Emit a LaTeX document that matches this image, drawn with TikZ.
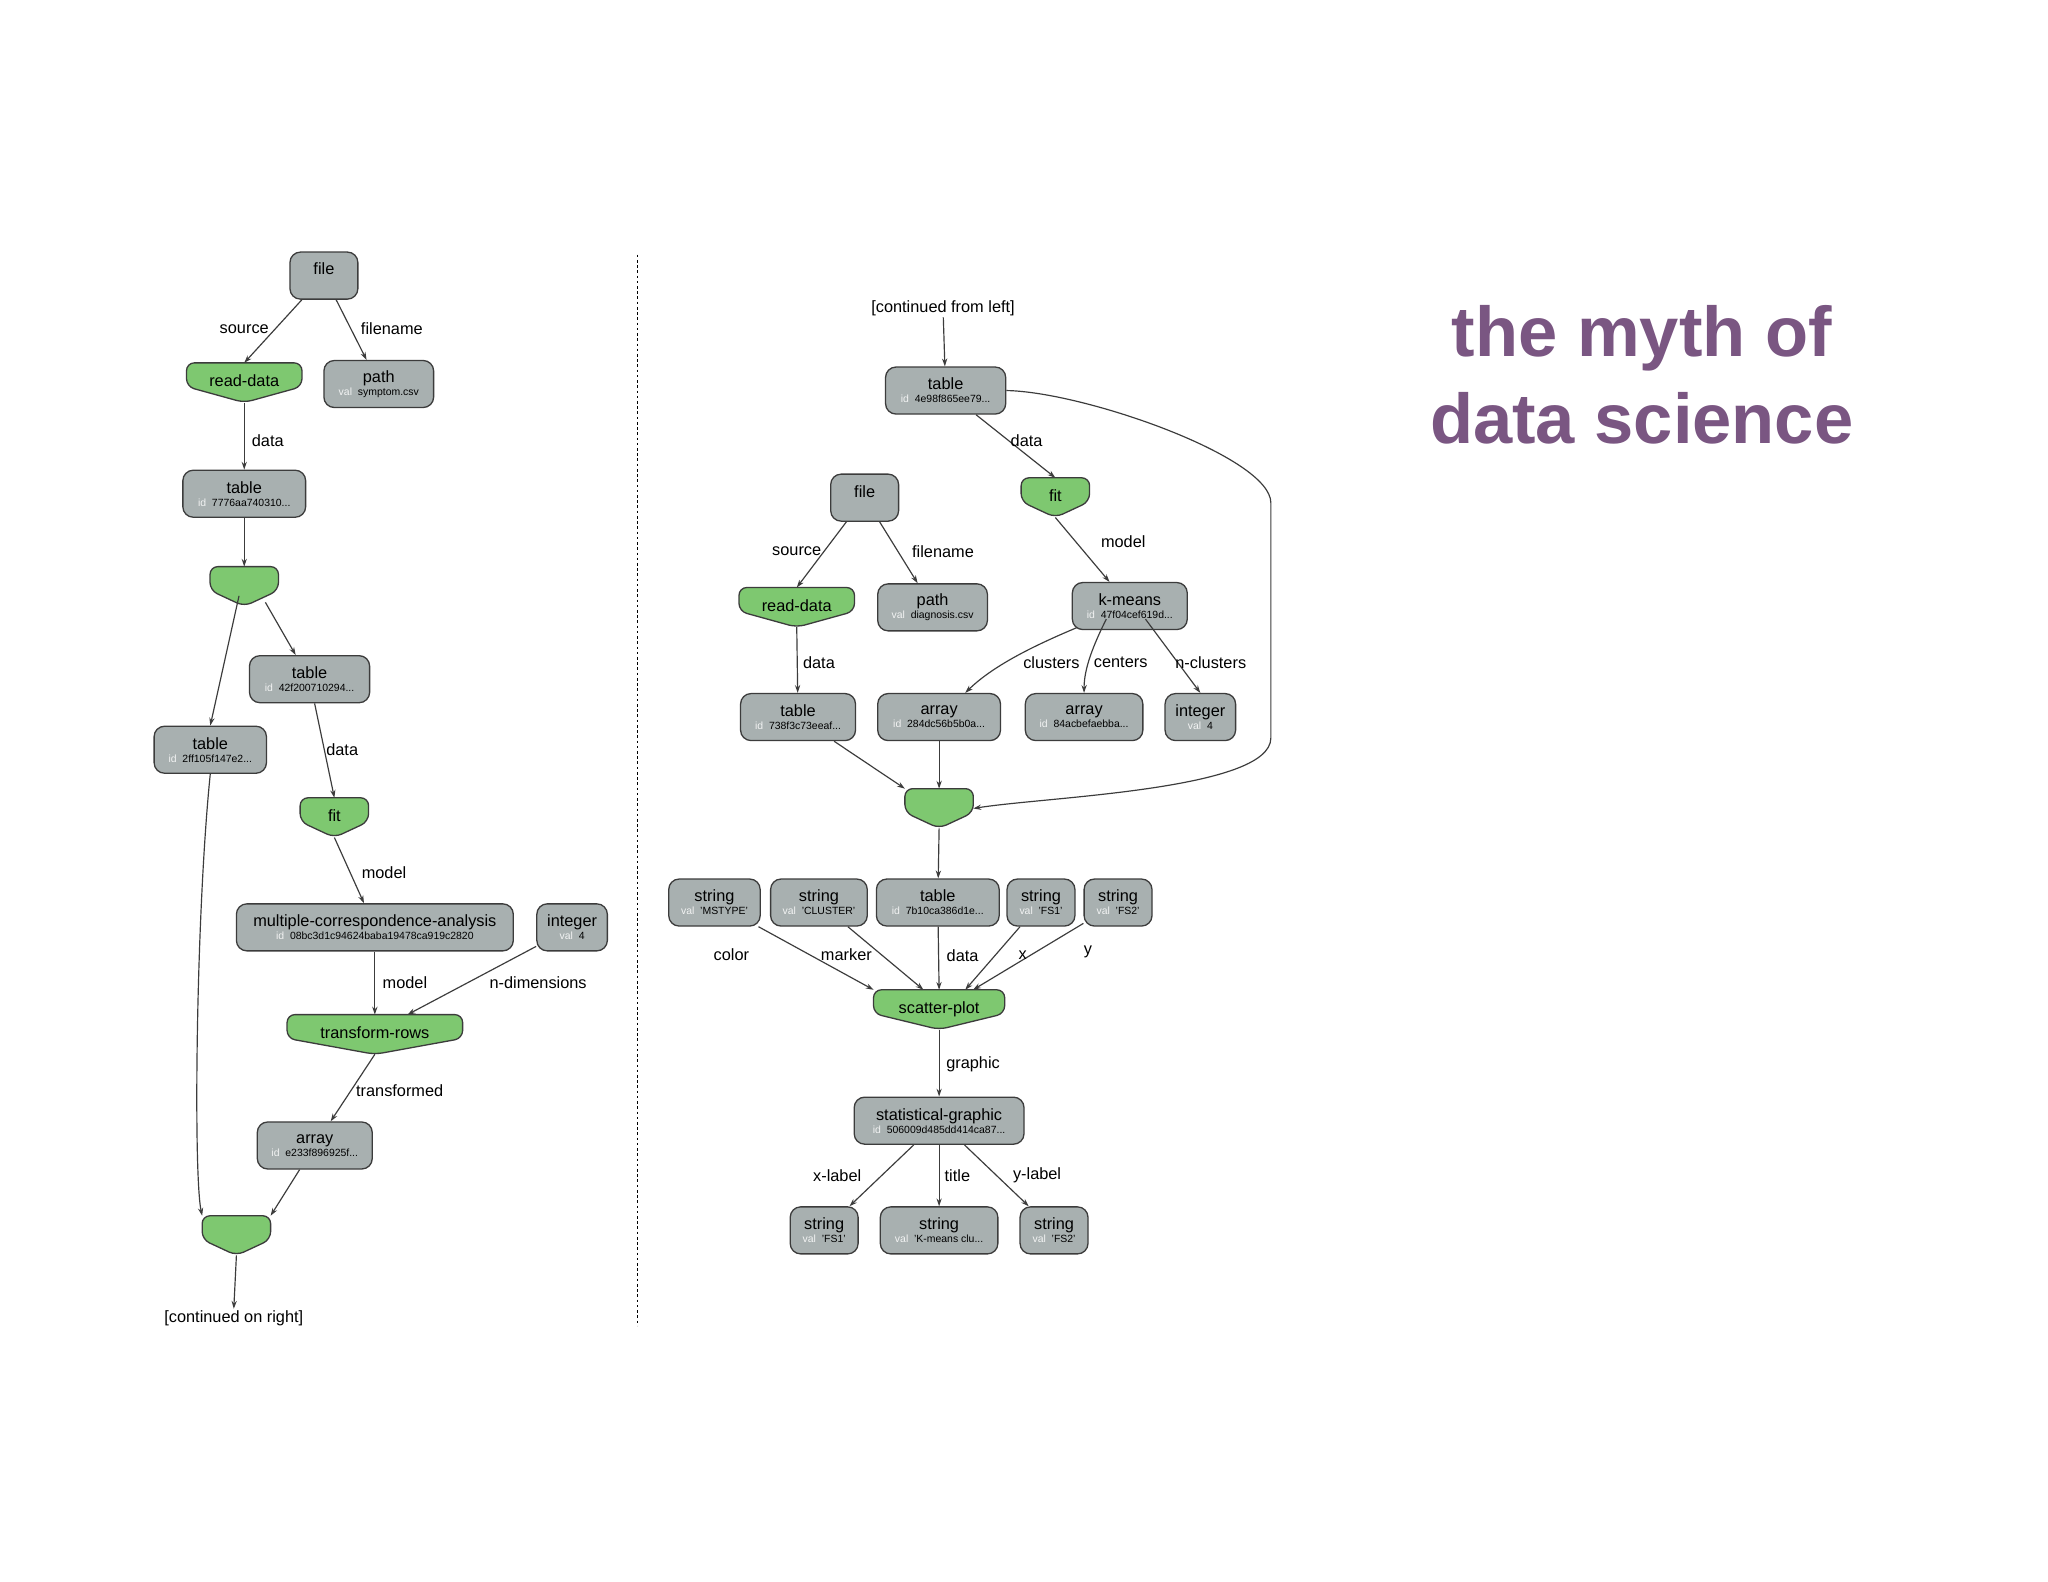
\documentclass[tikz,border=0pt]{standalone}
\usepackage{fontspec}
\setmainfont{Liberation Sans}
\usetikzlibrary{calc,arrows.meta}
\pgfdeclarelayer{bg}
\pgfsetlayers{bg,main}
\definecolor{gfillc}{RGB}{168,176,176}
\definecolor{grfill}{RGB}{126,200,112}
\definecolor{edgec}{RGB}{60,60,60}
\definecolor{titlec}{RGB}{122,86,130}
\tikzset{
  gnodes/.style={draw=edgec,fill=gfillc,rounded corners=8pt,line width=1pt,minimum height=36pt,inner sep=1pt,align=center,font=\fontsize{12.5}{12}\selectfont},
  grnode/.style={minimum height=30pt,inner sep=0pt,font=\fontsize{12.5}{12}\selectfont},
  grshape/.style={draw=edgec,fill=grfill,line width=1pt,rounded corners=6pt},
  arr/.style={draw=edgec,line width=0.9pt,-{Stealth[length=6pt,width=4pt]}},
  elab/.style={font=\fontsize{12.5}{12}\selectfont,inner sep=1pt}
}
\newcommand\gn[6]{\node[gnodes,minimum width=#4pt] (#1) at (#2,#3) {#5\\[-2pt]{\fontsize{8}{8}\selectfont #6}};}
\newcommand\gid[1]{{\color{white!85!gfillc}id}\ \ #1}
\newcommand\gval[1]{{\color{white!85!gfillc}val}\ \ #1}
\newcommand\grn[5]{\node[grnode,minimum width=#4pt] (#1) at (#2,#3) {\raisebox{3pt}{#5}};
 \begin{pgfonlayer}{bg}\draw[grshape] (#1.north west) -- (#1.north east) -- ($(#1.east)+(0,3)$) -- (#1.south) -- ($(#1.west)+(0,3)$) -- cycle;\end{pgfonlayer}}
\begin{document}
\begin{tikzpicture}[x=1pt,y=-1pt]
\begin{pgfonlayer}{bg}\fill[white] (0,0) rectangle (1568,1211);\end{pgfonlayer}
\useasboundingbox (0,0) rectangle (1568,1211);
% left
\gn{file}{248}{211}{52}{file}{}
\grn{rd}{187}{293}{88}{read-data}
\gn{path}{290}{294}{84}{path}{\gval{symptom.csv}}
\gn{t1}{187}{378}{94}{table}{\gid{7776aa740310...}}
\grn{g1}{187}{449}{52}{}
\gn{t2}{237}{520}{92}{table}{\gid{42f200710294...}}
\gn{t3}{161}{574}{86}{table}{\gid{2ff105f147e2...}}
\grn{fit}{256}{626}{52}{fit}
\gn{mca}{287}{710}{212}{multiple-correspondence-analysis}{\gid{08bc3d1c94624baba19478ca919c2820}}
\gn{int}{438}{710}{54}{integer}{\gval{4}}
\grn{tr}{287}{792}{134}{transform-rows}
\gn{arr}{241}{877}{88}{array}{\gid{e233f896925f...}}
\grn{g2}{181}{946}{52}{}
\node[elab] (cr) at (179,1009) {[continued on right]};
\draw[arr] (file) -- (rd.north) ;
\draw[arr] (file) -- (path);
\draw[arr] (rd.south) -- (t1);
\draw[arr] (t1) -- (g1.north);
\draw[arr] (g1.south east) ++(-10,-3) coordinate (g1a) -- (t2);
\draw[arr] (g1.south) ++(-4,-8) coordinate (g1b) -- (t3.north);
\draw[arr] (t2) -- (fit.north);
\draw[arr] (fit.south) -- (mca);
\draw[arr] (mca) -- (tr.north);
\draw[arr] (int) -- ($(tr.north)+(25,0)$);
\draw[arr] (tr.south) -- (arr);
\draw[arr] (arr) -- (g2.north east);
\draw[arr] (t3.south) .. controls (150,700) and (148,900) .. (g2.north west);
\draw[arr] (g2.south) -- (cr.north);
\node[elab] at (187,252) {source};
\node[elab] at (300,252) {filename};
\node[elab] at (205,337) {data};
\node[elab] at (262,574) {data};
\node[elab] at (294,668) {model};
\node[elab] at (310,752) {model};
\node[elab] at (412,752) {n-dimensions};
\node[elab] at (306,835) {transformed};
% divider
\draw[line width=1.2pt,dash pattern=on 2pt off 2pt] (488,195) -- (488,1015);
% right
\node[elab] (cl) at (722,236) {[continued from left]};
\gn{t4}{724}{299}{92}{table}{\gid{4e98f865ee79...}}
\grn{fit2}{808}{381}{52}{fit}
\gn{file2}{662}{381}{52}{file}{}
\grn{rd2}{610}{465}{88}{read-data}
\gn{path2}{714}{465}{84}{path}{\gval{diagnosis.csv}}
\gn{km}{865}{464}{88}{k-means}{\gid{47f04cef619d...}}
\gn{t5}{611}{549}{88}{table}{\gid{738f3c73eeaf...}}
\gn{a1}{719}{549}{94}{array}{\gid{284dc56b5b0a...}}
\gn{a2}{830}{549}{90}{array}{\gid{84acbefaebba...}}
\gn{i2}{919}{549}{54}{integer}{\gval{4}}
\grn{g3}{719}{619}{52}{}
\gn{s1}{547}{691}{70}{string}{\gval{'MSTYPE'}}
\gn{s2}{627}{691}{74}{string}{\gval{'CLUSTER'}}
\gn{t6}{718}{691}{94}{table}{\gid{7b10ca386d1e...}}
\gn{s3}{797}{691}{52}{string}{\gval{'FS1'}}
\gn{s4}{856}{691}{52}{string}{\gval{'FS2'}}
\grn{sp}{719}{773}{100}{scatter-plot}
\gn{sg}{719}{858}{130}{statistical-graphic}{\gid{506009d485dd414ca87...}}
\gn{s5}{631}{942}{52}{string}{\gval{'FS1'}}
\gn{s6}{719}{942}{90}{string}{\gval{'K-means clu...}}
\gn{s7}{807}{942}{52}{string}{\gval{'FS2'}}
\draw[arr] (cl) -- (t4);
\draw[arr] (t4) -- (fit2.north);
\draw[arr] (fit2.south) -- (km);
\draw[arr] (file2) -- (rd2.north);
\draw[arr] (file2) -- (path2);
\draw[arr] (rd2.south) -- (t5);
\draw[arr] (km.south west) ++(4,-2) coordinate (kma) .. controls (790,495) and (760,510) .. ($(a1.north)+(20,0)$);
\draw[arr] (km) ++(-18,10) coordinate (kmb) .. controls (834,500) and (830,515) .. (a2.north);
\draw[arr] (km) ++(12,10) coordinate (kmc) -- (i2.north);
\draw[arr] (t5) -- (g3.north west);
\draw[arr] (a1) -- (g3.north);
\draw[arr] (t4.east) .. controls (830,300) and (973,350) .. (973,385) -- (973,565) .. controls (973,605) and (800,610) .. (g3.east);
\draw[arr] (g3.south) -- (t6);
\draw[arr] (s1) -- (sp.north west);
\draw[arr] (s2) -- ($(sp.north)+(-12,0)$);
\draw[arr] (t6) -- (sp.north);
\draw[arr] (s3) -- ($(sp.north)+(20,0)$);
\draw[arr] (s4) -- ($(sp.north)+(26,0)$);
\draw[arr] (sp.south) -- (sg);
\draw[arr] (sg) -- (s5);
\draw[arr] (sg) -- (s6);
\draw[arr] (sg) -- (s7);
\node[elab] at (786,337) {data};
\node[elab] at (860,415) {model};
\node[elab] at (610,422) {source};
\node[elab] at (722,422) {filename};
\node[elab] at (627,507) {data};
\node[elab] at (805,507) {clusters};
\node[elab] at (858,507) {centers};
\node[elab] at (927,507) {n-clusters};
\node[elab] at (560,731) {color};
\node[elab] at (648,731) {marker};
\node[elab] at (737,732) {data};
\node[elab] at (783,731) {x};
\node[elab] at (833,729) {y};
\node[elab] at (745,815) {graphic};
\node[elab] at (641,900) {x-label};
\node[elab] at (733,900) {title};
\node[elab] at (794,900) {y-label};
% title
\node[font=\fontsize{54}{66}\selectfont\bfseries,text=titlec,align=center] at (1257,287) {the myth of\\data science};
\end{tikzpicture}
\end{document}
